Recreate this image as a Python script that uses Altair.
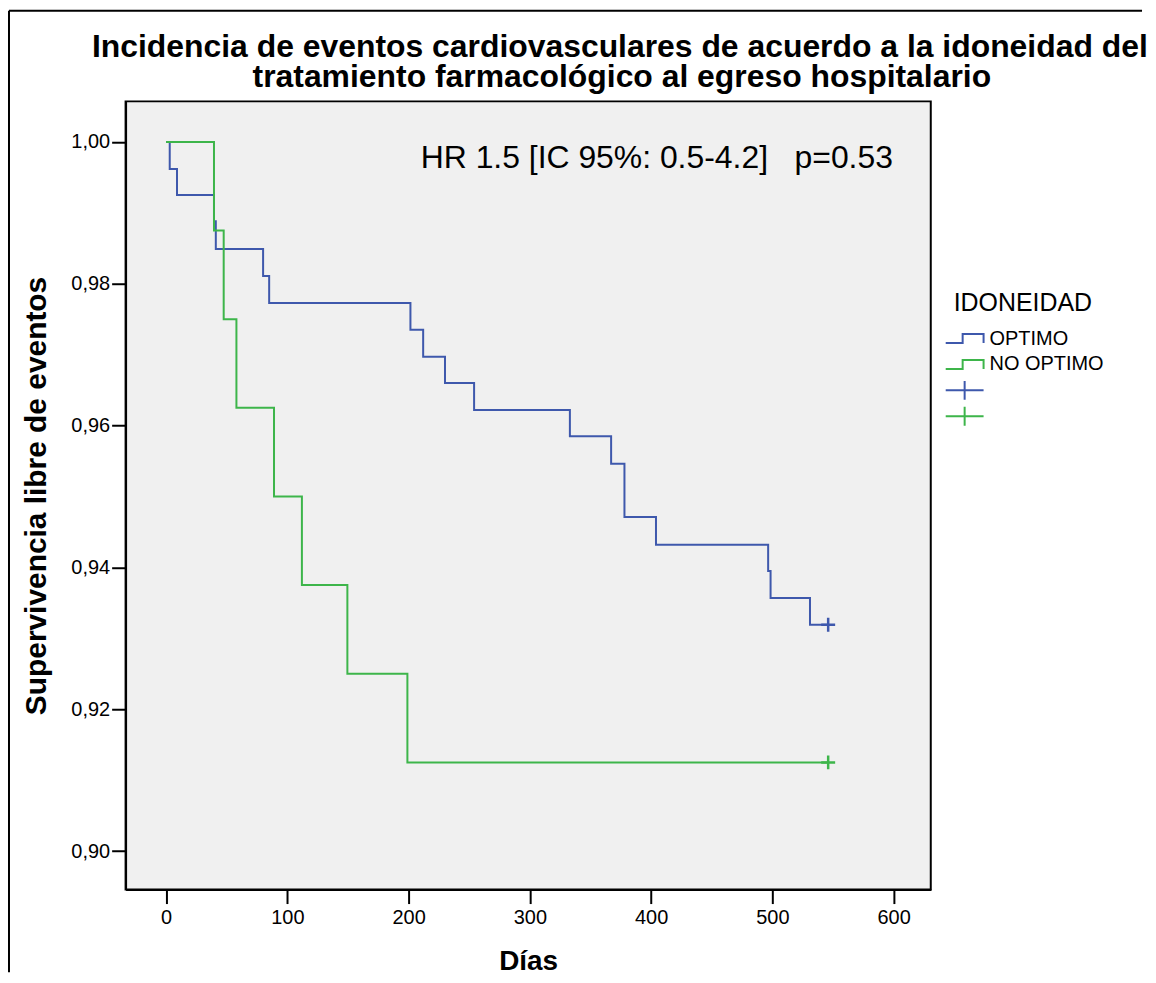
import altair as alt
import pandas as pd

# Kaplan-Meier steps
dias_optimo = [0, 3, 9, 39.5, 41, 80, 85, 201.5, 212, 230, 254, 333, 367, 378, 404, 496.5, 498.5, 531, 546]
superv_optimo = [1.0, 0.9962, 0.9925, 0.9888, 0.9849, 0.9811, 0.9773, 0.9735, 0.9697, 0.9660,
                 0.9622, 0.9585, 0.9546, 0.9471, 0.9432, 0.9395, 0.9357, 0.9319, 0.9319]
dias_no_optimo = [0, 39.5, 47.5, 58, 89, 112, 149.5, 199, 546]
superv_no_optimo = [1.0, 0.9875, 0.975, 0.9625, 0.95, 0.9375, 0.925, 0.9125, 0.9125]

grupos = ["OPTIMO", "NO OPTIMO"]
grupos_censura = ["OPTIMO +", "NO OPTIMO +"]
censura_dias = [546, 546]
censura_superv = [0.9319, 0.9125]

dominio = grupos + grupos_censura
colores = ["#3e58ac", "#3db54a", "#3e58ac", "#3db54a"]

x_ticks = [0, 100, 200, 300, 400, 500, 600]
y_ticks = [0.90, 0.92, 0.94, 0.96, 0.98, 1.00]

anotacion = "HR 1.5 [IC 95%: 0.5-4.2]\u00a0\u00a0\u00a0p=0.53"
titulo = ["Incidencia de eventos cardiovasculares de acuerdo a la idoneidad del",
          "tratamiento farmacológico al egreso hospitalario"]

FONT = "Liberation Sans"
# step symbol, with zero-length ends so every legend row has the same height as the cross rows
STEP = "M-1.9,0.45L-0.2,0.45L-0.2,-0.45L1.9,-0.45L1.9,0.45M0,-0.95L0,-0.95M0,0.95L0,0.95"
CROSS = "M-1.9,0L1.9,0M0,-0.95L0,0.95"
PLUS = "M-1,0L1,0M0,-1L0,1"

lineas = pd.DataFrame({
    "dias": dias_optimo + dias_no_optimo,
    "superv": superv_optimo + superv_no_optimo,
    "grupo": [grupos[0]] * len(dias_optimo) + [grupos[1]] * len(dias_no_optimo),
})
censura = pd.DataFrame({"dias": censura_dias, "superv": censura_superv, "grupo": grupos_censura})

xscale = alt.Scale(domain=[-33.4, 630.6], nice=False, zero=False)
yscale = alt.Scale(domain=[0.89456, 1.00572], nice=False, zero=False)

legend = alt.Legend(
    title="IDONEIDAD", orient="none", legendX=831, legendY=190,
    titleFontSize=25, titleFontWeight="normal", titleFont=FONT, titleColor="black",
    titlePadding=12, labelFontSize=20, labelFont=FONT, labelColor="black",
    labelOffset=14, symbolSize=400, symbolStrokeWidth=2, symbolFillColor="transparent",
    symbolType={"expr": "indexof(datum.value, '+') >= 0 ? '%s' : '%s'" % (CROSS, STEP)},
    rowPadding=-2, padding=0,
    labelExpr="indexof(datum.label, '+') >= 0 ? '' : datum.label",
)

color_scale = alt.Scale(domain=dominio, range=colores)

xaxis = alt.Axis(values=x_ticks, title="Días", grid=False, tickSize=14, tickWidth=2,
                 tickColor="black", domainColor="black", domainWidth=2,
                 labelFontSize=20, labelFont=FONT, labelColor="black", labelPadding=4,
                 titleFontSize=28, titleFont=FONT, titleFontWeight="bold", titleColor="black",
                 titlePadding=20)
yaxis = alt.Axis(values=y_ticks, title="Supervivencia libre de eventos", grid=False,
                 tickSize=14, tickWidth=2, tickColor="black", domainColor="black", domainWidth=2,
                 labelFontSize=20, labelFont=FONT, labelColor="black", labelPadding=2,
                 labelExpr="replace(format(datum.value, '.2f'), '.', ',')",
                 titleFontSize=30, titleFont=FONT, titleFontWeight="bold", titleColor="black",
                 titlePadding=19)

base_lineas = alt.Chart(lineas).mark_line(interpolate="step-after", strokeWidth=2).encode(
    x=alt.X("dias:Q", scale=xscale, axis=xaxis),
    y=alt.Y("superv:Q", scale=yscale, axis=yaxis),
    color=alt.Color("grupo:N", scale=color_scale, legend=legend),
    detail="grupo:N",
)

puntos = alt.Chart(censura).mark_point(shape=PLUS, filled=False, size=196, strokeWidth=2.5, opacity=1).encode(
    x=alt.X("dias:Q", scale=xscale),
    y=alt.Y("superv:Q", scale=yscale),
    color=alt.Color("grupo:N", scale=color_scale, legend=legend),
)

texto = alt.Chart(pd.DataFrame({"t": [anotacion], "dias": [210], "superv": [0.99631]})).mark_text(
    align="left", baseline="alphabetic", fontSize=32, font=FONT, color="black"
).encode(x=alt.X("dias:Q", scale=xscale), y=alt.Y("superv:Q", scale=yscale), text="t:N")

titulo_1 = alt.Chart(pd.DataFrame({"t": [titulo[0]]})).mark_text(
    align="center", baseline="alphabetic", fontSize=32, font=FONT, fontWeight="bold", color="black"
).encode(x=alt.value(496), y=alt.value(-45), text="t:N")
titulo_2 = alt.Chart(pd.DataFrame({"t": [titulo[1]]})).mark_text(
    align="center", baseline="alphabetic", fontSize=32, font=FONT, fontWeight="bold", color="black"
).encode(x=alt.value(498), y=alt.value(-14), text="t:N")

marco = pd.DataFrame({"k": [0]})
marco_v = alt.Chart(marco).mark_rule(color="black", strokeWidth=2).encode(
    x=alt.value(-117), y=alt.value(-91), y2=alt.value(874))
marco_h = alt.Chart(marco).mark_rule(color="black", strokeWidth=2).encode(
    x=alt.value(-117), x2=alt.value(1020), y=alt.value(-91))

chart = alt.layer(base_lineas, puntos, texto, titulo_1, titulo_2, marco_v, marco_h).properties(
    width=808, height=791,
    padding={"left": 0, "top": 0, "right": 0, "bottom": 0},
).configure_view(fill="#f0f0f0", stroke="black", strokeWidth=2)

chart.save("out.html", embed_options={"renderer": "svg", "actions": False})
